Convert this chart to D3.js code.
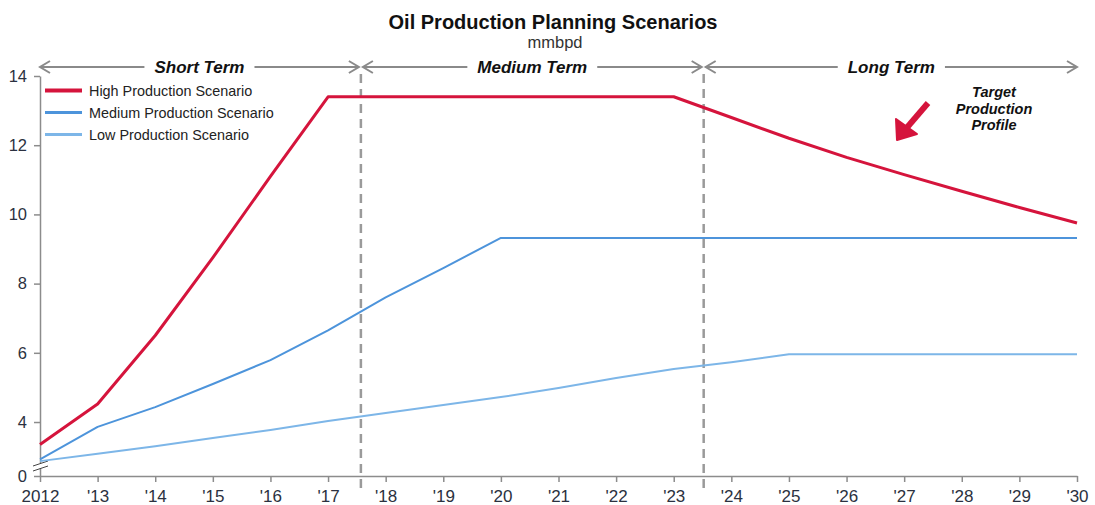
<!DOCTYPE html>
<html>
<head>
<meta charset="utf-8">
<script src="https://cdn.jsdelivr.net/npm/d3@7"></script>
<style>
  body { margin: 0; background: #fff; }
  svg { display: block; font-family: "Liberation Sans", Arial, sans-serif; }
</style>
</head>
<body>
<svg id="chart" width="1095" height="505"></svg>
<script>
// Years on the x axis
const years = [2012, 2013, 2014, 2015, 2016, 2017, 2018, 2019, 2020, 2021,
               2022, 2023, 2024, 2025, 2026, 2027, 2028, 2029, 2030];
const yearLabels = ["2012", "'13", "'14", "'15", "'16", "'17", "'18", "'19", "'20", "'21",
                    "'22", "'23", "'24", "'25", "'26", "'27", "'28", "'29", "'30"];

// Production scenarios, mmbpd
const highValues   = [3.35, 4.52, 6.5, 8.75, 11.1, 13.4, 13.4, 13.4, 13.4, 13.4,
                      13.4, 13.4, 12.8, 12.2, 11.65, 11.15, 10.67, 10.2, 9.75];
const mediumValues = [2.92, 3.86, 4.43, 5.1, 5.79, 6.65, 7.6, 8.45, 9.32, 9.32,
                      9.32, 9.32, 9.32, 9.32, 9.32, 9.32, 9.32, 9.32, 9.32];
const lowValues    = [2.87, 3.08, 3.3, 3.54, 3.77, 4.03, 4.26, 4.49, 4.72, 4.98,
                      5.27, 5.53, 5.73, 5.96, 5.96, 5.96, 5.96, 5.96, 5.96];

const seriesNames = ["High Production Scenario", "Medium Production Scenario", "Low Production Scenario"];
const seriesColors = ["#d5143c", "#4d94db", "#7db6e8"];

// Y axis ticks; the bottom of the axis is broken and labelled 0
const yTicks = [4, 6, 8, 10, 12, 14];
const yBottom = 2.44;

// Planning horizons
const termNames = ["Short Term", "Medium Term", "Long Term"];
const termBounds = [2012, 2017.57, 2023.52, 2030];

const svg = d3.select("#chart");
const x = d3.scaleLinear().domain([2012, 2030]).range([40, 1077]);
const y = d3.scaleLinear().domain([yBottom, 14]).range([476, 76]);

const axisColor = "#8c8c8c";
const labelColor = "#2b3140";

// Title
svg.append("text").attr("x", 553).attr("y", 29).attr("text-anchor", "middle")
  .attr("font-size", 20).attr("font-weight", "bold").attr("fill", "#111")
  .text("Oil Production Planning Scenarios");
svg.append("text").attr("x", 555).attr("y", 48).attr("text-anchor", "middle")
  .attr("font-size", 16.5).attr("fill", "#333").text("mmbpd");

// Dashed term boundaries
[termBounds[1], termBounds[2]].forEach(b => {
  svg.append("line").attr("x1", x(b)).attr("x2", x(b)).attr("y1", 74).attr("y2", 488)
    .attr("stroke", "#9a9a9a").attr("stroke-width", 2.5).attr("stroke-dasharray", "9,6");
});

// Term arrows with labels
const arrowY = 67;
function arrowHead(px, dir) {
  svg.append("path")
    .attr("d", `M${px + dir * 10},${arrowY - 6} L${px},${arrowY} L${px + dir * 10},${arrowY + 6}`)
    .attr("fill", "none").attr("stroke", "#8a8a8a").attr("stroke-width", 2);
}
termNames.forEach((name, i) => {
  const x0 = x(termBounds[i]) + (i === 0 ? 0 : 2);
  const x1 = x(termBounds[i + 1]) - (i === 2 ? 0 : 2);
  const cx = (x0 + x1) / 2;
  const t = svg.append("text").attr("x", cx).attr("y", arrowY + 6).attr("text-anchor", "middle")
    .attr("font-size", 17).attr("font-weight", "bold").attr("font-style", "italic")
    .attr("fill", "#111").text(name);
  const w = t.node().getComputedTextLength();
  svg.append("line").attr("x1", x0).attr("x2", cx - w / 2 - 10).attr("y1", arrowY).attr("y2", arrowY)
    .attr("stroke", "#8a8a8a").attr("stroke-width", 2);
  svg.append("line").attr("x1", cx + w / 2 + 10).attr("x2", x1).attr("y1", arrowY).attr("y2", arrowY)
    .attr("stroke", "#8a8a8a").attr("stroke-width", 2);
  arrowHead(x0, 1);
  arrowHead(x1, -1);
});

// Axes
const xAxis = d3.axisBottom(x).tickValues(years)
  .tickFormat((d, i) => yearLabels[i]).tickSize(6).tickSizeOuter(0);
const gx = svg.append("g").attr("transform", "translate(0,476)").call(xAxis);
gx.select(".domain").attr("stroke", axisColor).attr("stroke-width", 1.5);
gx.selectAll(".tick line").attr("stroke", axisColor).attr("stroke-width", 1.5);
gx.selectAll(".tick text").attr("font-size", 17).attr("fill", labelColor)
  .attr("font-family", "Liberation Sans, Arial, sans-serif").attr("dy", "1em");

const yAxis = d3.axisLeft(y).tickValues([yBottom].concat(yTicks))
  .tickFormat(d => d === yBottom ? "0" : d).tickSize(6).tickSizeOuter(0);
const gy = svg.append("g").attr("transform", "translate(40,0)").call(yAxis);
gy.select(".domain").attr("stroke", axisColor).attr("stroke-width", 1.5);
gy.selectAll(".tick line").attr("stroke", axisColor).attr("stroke-width", 1.5);
gy.selectAll(".tick text").attr("font-size", 16.5).attr("fill", labelColor)
  .attr("font-family", "Liberation Sans, Arial, sans-serif").attr("x", -13);

// Axis break marks
const breakY = y(yBottom) - 10;
svg.append("rect").attr("x", 34).attr("y", breakY - 3).attr("width", 12).attr("height", 5).attr("fill", "#fff");
[-2.5, 2.5].forEach(o => {
  svg.append("line").attr("x1", 33).attr("x2", 48).attr("y1", breakY + o + 2.5).attr("y2", breakY + o - 2.5)
    .attr("stroke", "#444").attr("stroke-width", 1);
});

// Scenario lines
const line = d3.line().x((d, i) => x(years[i])).y(d => y(d));
const allSeries = [highValues, mediumValues, lowValues];
const widths = [3, 2, 2];
[2, 1, 0].forEach(k => {
  svg.append("path").datum(allSeries[k]).attr("d", line)
    .attr("fill", "none").attr("stroke", seriesColors[k]).attr("stroke-width", widths[k])
    .attr("stroke-linejoin", "round");
});

// Legend
seriesNames.forEach((name, i) => {
  const ly = 90.5 + i * 22;
  svg.append("line").attr("x1", 45).attr("x2", 82).attr("y1", ly).attr("y2", ly)
    .attr("stroke", seriesColors[i]).attr("stroke-width", i === 0 ? 4 : 3);
  svg.append("text").attr("x", 89).attr("y", ly + 5).attr("font-size", 14.4)
    .attr("fill", "#222").text(name);
});

// Target annotation
["Target", "Production", "Profile"].forEach((s, i) => {
  svg.append("text").attr("x", 994).attr("y", 97 + i * 16.5).attr("text-anchor", "middle")
    .attr("font-size", 14.5).attr("font-weight", "bold").attr("font-style", "italic")
    .attr("fill", "#111").text(s);
});
svg.append("line").attr("x1", 928).attr("y1", 103).attr("x2", 904).attr("y2", 131)
  .attr("stroke", "#d5143c").attr("stroke-width", 6);
svg.append("path").attr("d", "M897,140 L896,119 L917,134 Z").attr("fill", "#d5143c")
  .attr("stroke", "#d5143c").attr("stroke-width", 2).attr("stroke-linejoin", "round");
</script>
</body>
</html>
